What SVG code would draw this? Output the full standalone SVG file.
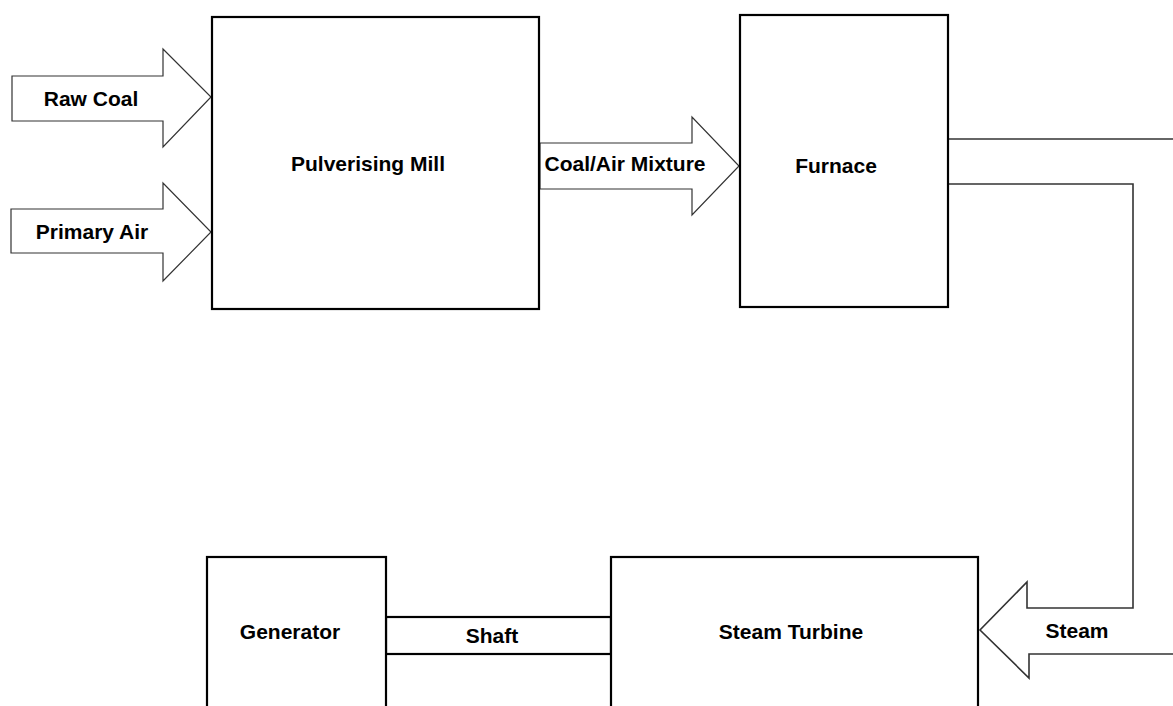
<svg xmlns="http://www.w3.org/2000/svg" width="1173" height="706" viewBox="0 0 1173 706">
<style>
.box{fill:#fff;stroke:#000;stroke-width:2.2}
.arr{fill:#fff;stroke:#333;stroke-width:1.2;stroke-linejoin:miter}
.ln{fill:none;stroke:#333;stroke-width:1.6}
text{font-family:"Liberation Sans",Arial,sans-serif;font-weight:bold;font-size:21px;fill:#000;text-anchor:middle;dominant-baseline:central}
</style>
<rect width="1173" height="706" fill="#fff"/>
<g id="connectors">
<polygon class="arr" points="12,76 163,76 163,49 211,97 163,147 163,121 12,121"/>
<polygon class="arr" points="11,209 163,209 163,183 211,232 163,281 163,253 11,253"/>
<polygon class="arr" points="540,143 692,143 692,117 739,166 692,215 692,189 540,189"/>
<polyline class="ln" points="948,139 1173,139"/>
<polyline class="ln" points="948,184 1133,184 1133,608 1027,608 1027,582 980,630 1029,678 1029,654 1173,654"/>
<rect class="box" x="386" y="617" width="225" height="37"/>
<text x="91" y="98">Raw Coal</text>
<text x="92" y="231">Primary Air</text>
<text x="625" y="163">Coal/Air Mixture</text>
<text x="1077" y="630">Steam</text>
<text x="492" y="635">Shaft</text>
</g>
<g id="mill"><rect class="box" x="212" y="17" width="327" height="292"/><text x="368" y="163">Pulverising Mill</text></g>
<g id="furnace"><rect class="box" x="740" y="15" width="208" height="292"/><text x="836" y="165">Furnace</text></g>
<g id="generator"><rect class="box" x="207" y="557" width="179" height="160"/><text x="290" y="631">Generator</text></g>
<g id="turbine"><rect class="box" x="611" y="557" width="367" height="160"/><text x="791" y="631">Steam Turbine</text></g>
</svg>
